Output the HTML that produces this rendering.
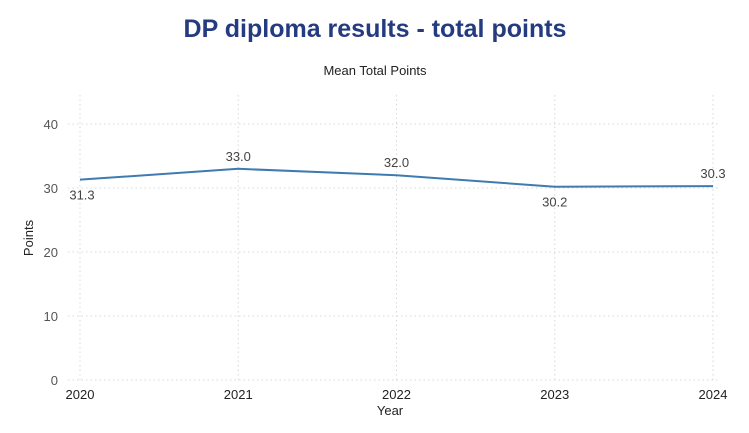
<!DOCTYPE html>
<html><head><meta charset="utf-8"><style>
body{margin:0;background:#fff;font-family:"Liberation Sans",Arial,sans-serif;}
svg{display:block}
</style></head><body>
<svg width="749" height="433">
<text x="375" y="37" text-anchor="middle" font-size="25" font-weight="bold" fill="#243b80">DP diploma results - total points</text>
<text x="375" y="75" text-anchor="middle" font-size="13" fill="#222">Mean Total Points</text>
<g id="grid"></g>
<g id="axes"></g>
<path id="line" fill="none" stroke="#3f7bb0" stroke-width="2"/>
<g id="labels"></g>
<text x="390" y="415" text-anchor="middle" font-size="13" fill="#222">Year</text>
<text transform="translate(33,238) rotate(-90)" text-anchor="middle" font-size="13" fill="#222">Points</text>
</svg>
<script>
const years = [2020, 2021, 2022, 2023, 2024];
const values = [31.3, 33.0, 32.0, 30.2, 30.3];
const yTicks = [0, 10, 20, 30, 40];
const NS = "http://www.w3.org/2000/svg";
function xs(i){ return 80 + i * (713 - 80) / (years.length - 1); }
function ys(v){ return 380 - v * (380 - 124) / 40; }
function mk(tag, attrs, parent){ const e = document.createElementNS(NS, tag); for (const k in attrs) e.setAttribute(k, attrs[k]); parent.appendChild(e); return e; }
const grid = document.getElementById('grid'), axes = document.getElementById('axes'), labels = document.getElementById('labels');
yTicks.forEach(t => {
  const l = mk('line', {x1:68, x2:718, y1:ys(t), y2:ys(t), stroke:'#d8d8d8', 'stroke-dasharray':'1.5,3'}, grid);
  
  
  const tx = mk('text', {x:58, y:ys(t)+5, 'text-anchor':'end', 'font-size':13, fill:'#555'}, axes);
  tx.textContent = t;
  
  
});
years.forEach((yr, i) => {
  const l = mk('line', {x1:xs(i), x2:xs(i), y1:95, y2:382, stroke:'#d8d8d8', 'stroke-dasharray':'1.5,3'}, grid);
  
  
  const tx = mk('text', {x:xs(i), y:399, 'text-anchor':'middle', 'font-size':13, fill:'#222'}, axes);
  tx.textContent = yr;
  
  
});
document.getElementById('line').setAttribute('d', values.map((v, i) => (i ? 'L' : 'M') + xs(i) + ',' + ys(v)).join(' '));
values.forEach((v, i) => {
  const cmp = i < values.length - 1 ? values[i+1] : values[i-1];
  const below = i < values.length - 1 ? v < cmp : v < cmp;
  const x = i === 0 ? xs(i) + 2 : xs(i);
  const tx = mk('text', {x:x, y: below ? ys(v) + 20 : ys(v) - 8, 'text-anchor':'middle', 'font-size':13, fill:'#444'}, labels);
  tx.textContent = v.toFixed(1);
  
  
});
</script>
</body></html>
